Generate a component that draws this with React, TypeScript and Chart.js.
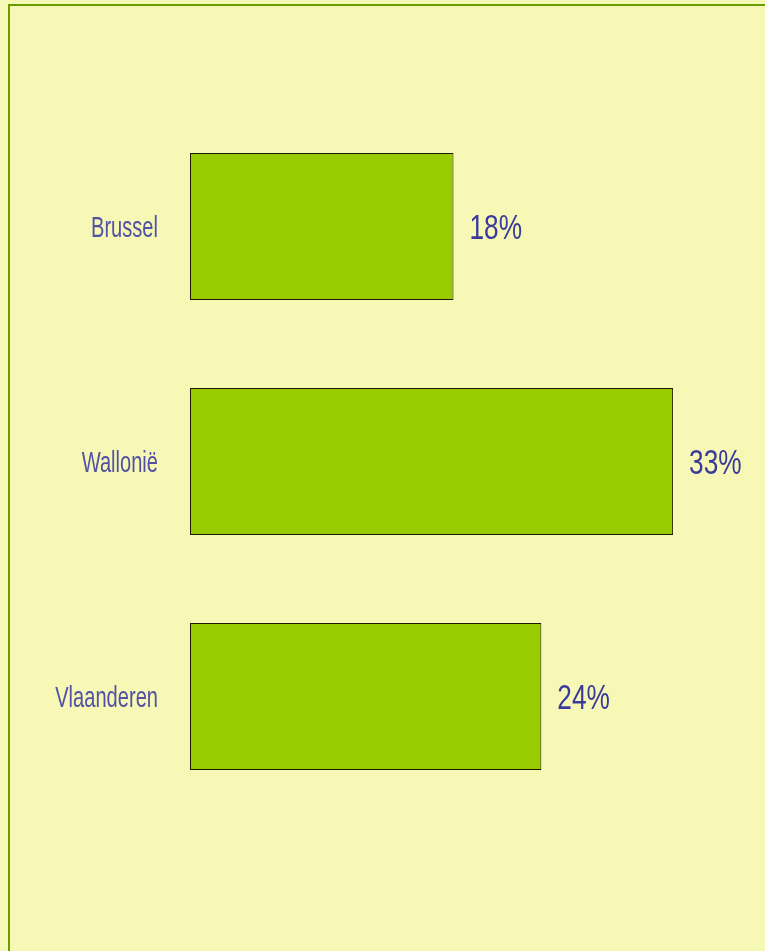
import React, { useEffect, useRef } from "react";
import { Chart, registerables } from "chart.js";

Chart.register(...registerables);

const categories = ["Brussel", "Wallonië", "Vlaanderen"];
const values = [18, 33, 24];
const valueLabels = ["18%", "33%", "24%"];

const labelPlugin = {
  id: "customLabels",
  afterDatasetsDraw(chart: any) {
    const ctx = chart.ctx;
    const xs = chart.scales.x;
    const ys = chart.scales.y;
    ctx.save();
    chart.data.labels.forEach((lab: string, i: number) => {
      const y = ys.getPixelForValue(i);
      // category label
      ctx.save();
      ctx.font = '30px "Liberation Sans Narrow", "Liberation Sans", sans-serif';
      ctx.fillStyle = "#5151a6";
      ctx.textAlign = "right";
      ctx.textBaseline = "alphabetic";
      ctx.translate(xs.getPixelForValue(0) - 32, y + 10.5);
      ctx.scale(0.67, 1);
      ctx.fillText(lab, 0, 0);
      ctx.restore();
      // value label
      const v = chart.data.datasets[0].data[i];
      ctx.save();
      ctx.font = '35px "Liberation Sans Narrow", "Liberation Sans", sans-serif';
      ctx.fillStyle = "#3a3a9c";
      ctx.textAlign = "left";
      ctx.textBaseline = "alphabetic";
      ctx.translate(xs.getPixelForValue(v) + 16, y + 12);
      ctx.scale(0.75, 1);
      ctx.fillText(valueLabels[i], 0, 0);
      ctx.restore();
    });
    ctx.restore();
  },
};

export default function App() {
  const ref = useRef<HTMLCanvasElement>(null);
  useEffect(() => {
    document.body.style.margin = "0";
    document.body.style.background = "#f7f8b6";
    const chart = new Chart(ref.current!, {
      type: "bar",
      data: {
        labels: categories,
        datasets: [
          {
            data: values,
            backgroundColor: "#99cc00",
            borderColor: "#1a1a00",
            borderWidth: 1,
            borderSkipped: false,
            categoryPercentage: 1,
            barPercentage: 0.625,
          },
        ],
      },
      options: {
        indexAxis: "y",
        animation: false,
        responsive: false,
        maintainAspectRatio: false,
        layout: { padding: { left: 190, top: 109, bottom: 137, right: 48 } },
        plugins: { legend: { display: false }, tooltip: { enabled: false } },
        scales: {
          x: { display: false, min: 0, max: 36 },
          y: { display: false },
        },
      },
      plugins: [labelPlugin],
    });
    return () => chart.destroy();
  }, []);
  return (
    <div style={{ position: "relative", width: 765, height: 951, background: "#f7f8b6", overflow: "hidden" }}>
      <div
        style={{
          position: "absolute",
          left: 8,
          top: 4,
          width: 800,
          height: 1000,
          borderLeft: "2px solid #6a9e00",
          borderTop: "2px solid #6a9e00",
          boxSizing: "border-box",
        }}
      />
      <canvas ref={ref} width={765} height={951} style={{ position: "absolute", left: 0, top: 0 }} />
    </div>
  );
}
